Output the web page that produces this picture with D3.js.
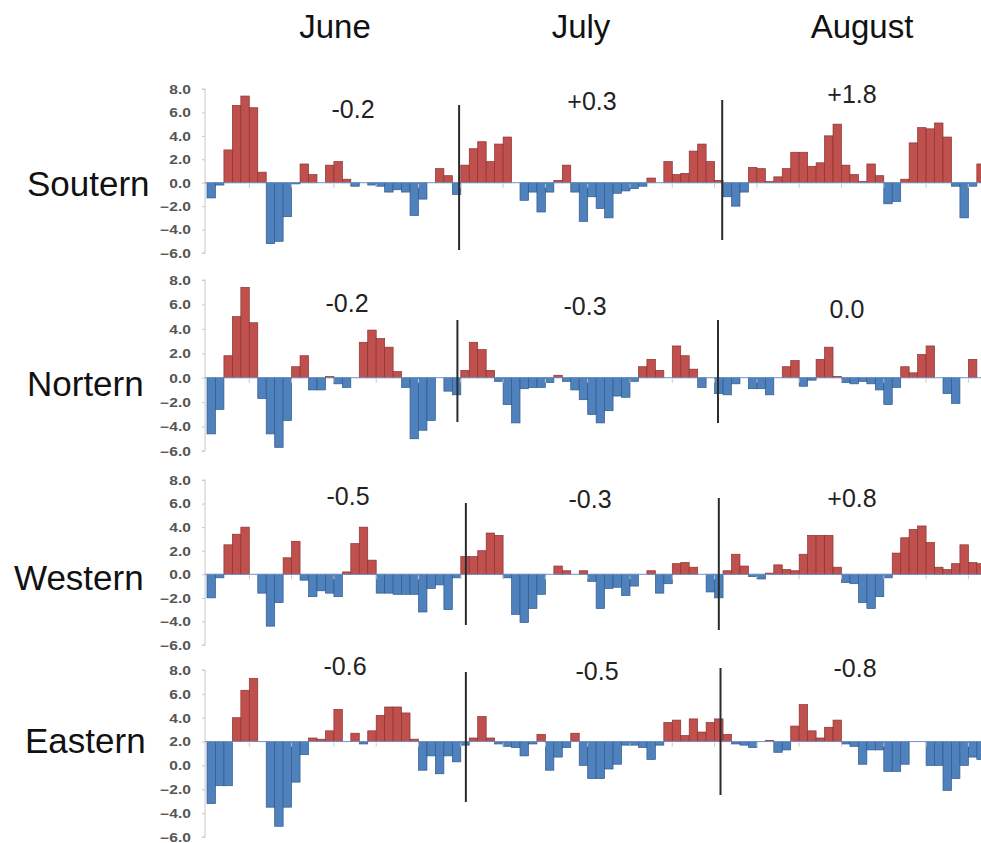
<!DOCTYPE html>
<html><head><meta charset="utf-8">
<script src="https://cdn.jsdelivr.net/npm/d3@7"></script>
<style>body{margin:0;background:#fff}svg{display:block}</style>
</head><body>
<svg id="chart" width="981" height="843"></svg>
<script>
// ---------- DATA ----------
const months = ["June", "July", "August"];
const monthDays = [30, 31, 31];
const regions = ["Soutern", "Nortern", "Western", "Eastern"];
const yTicks = [8, 6, 4, 2, 0, -2, -4, -6];
// baseline value where the horizontal axis crosses (Eastern panel crosses at 2.0)
const axisCross = [0, 0, 0, 2];

const soutern = [
  -1.3, -0.2, 2.8, 6.6, 7.4, 6.4, 0.9, -5.2, -5.0, -2.9, -0.1, 1.6, 0.7, 0.0, 1.5, 1.8, 0.3, -0.3, 0.0, -0.2, -0.3, -0.8, -0.6, -0.8, -2.8, -1.4, 0.0, 1.2, 0.6, -1.0,
  1.5, 2.9, 3.5, 1.8, 3.3, 3.9, 0.0, -1.5, -0.8, -2.5, -0.8, 0.2, 1.5, -0.8, -3.3, -1.2, -2.2, -3.0, -0.9, -0.7, -0.5, -0.3, 0.4, 0.0, 1.8, 0.7, 0.8, 2.7, 3.3, 1.8, 0.2,
  -1.2, -2.0, -0.8, 1.3, 1.2, 0.1, 0.5, 1.2, 2.6, 2.6, 1.4, 1.7, 4.0, 5.0, 1.5, 0.7, 0.1, 1.6, 0.6, -1.8, -1.6, 0.3, 3.4, 4.7, 4.6, 5.1, 3.9, -0.3, -3.0, -0.3, 1.6
];
const nortern = [
  -4.6, -2.6, 1.8, 5.0, 7.4, 4.5, -1.7, -4.6, -5.7, -3.5, 0.9, 1.8, -1.0, -1.0, 0.1, -0.5, -0.8, 0.0, 2.9, 3.9, 3.2, 2.5, 0.5, -0.8, -5.0, -4.3, -3.5, 0.0, -1.1, -1.4,
  0.6, 2.9, 2.3, 0.6, -0.3, -2.2, -3.7, -0.9, -0.8, -0.8, -0.4, 0.2, -0.3, -1.0, -1.8, -3.0, -3.7, -2.7, -1.5, -1.6, -0.3, 0.9, 1.5, 0.6, 0.0, 2.6, 1.8, 0.7, -0.8, 0.0, -1.3,
  -1.4, -0.5, 0.0, -0.9, -0.9, -1.4, 0.0, 0.9, 1.4, -0.7, -0.2, 1.5, 2.5, 0.1, -0.4, -0.5, -0.3, -0.5, -1.0, -2.2, -0.8, 0.9, 0.4, 1.9, 2.6, 0.0, -1.3, -2.1, 0.0, 1.5, 0.0
];
const western = [
  -2.0, -0.3, 2.5, 3.4, 4.0, 0.0, -1.6, -4.4, -2.4, 1.4, 2.8, -0.5, -1.9, -1.4, -1.6, -1.9, 0.2, 2.6, 4.0, 1.2, -1.6, -1.6, -1.7, -1.7, -1.7, -3.2, -1.2, -0.9, -3.0, -0.3,
  1.5, 1.5, 2.0, 3.5, 3.3, -0.3, -3.4, -4.1, -2.9, -1.7, 0.0, 0.7, 0.3, 0.0, 0.3, -0.6, -2.9, -1.2, -1.1, -1.8, -1.0, 0.0, 0.3, -1.6, -0.8, 0.9, 1.0, 0.6, 0.0, -1.5, -2.0,
  0.3, 1.7, 0.7, -0.2, -0.4, 0.1, 0.8, 0.4, 0.3, 1.7, 3.3, 3.3, 3.3, 0.6, -0.7, -0.8, -2.4, -2.9, -1.9, -0.3, 1.8, 3.1, 3.8, 4.1, 2.7, 0.6, 0.4, 0.9, 2.5, 1.0, 0.9
];
const eastern = [
  -3.2, -1.7, -1.7, 4.0, 6.3, 7.3, 2.0, -3.5, -5.1, -3.5, -1.4, 0.9, 2.3, 2.2, 2.9, 4.7, 2.0, 2.7, 1.8, 2.9, 4.2, 4.9, 4.9, 4.4, 2.2, -0.4, 0.8, -0.7, 0.8, 0.3,
  1.7, 2.3, 4.1, 2.3, 1.8, 1.6, 1.5, 0.8, 1.8, 2.6, -0.4, 0.7, 1.5, 2.7, 0.0, -1.1, -1.1, -0.3, 0.1, 1.7, 1.7, 1.5, 0.5, 1.7, 3.6, 3.8, 2.5, 3.9, 2.8, 3.6, 3.9,
  2.6, 1.8, 1.7, 1.5, 2.0, 2.1, 1.1, 1.3, 3.3, 5.1, 2.9, 2.3, 3.2, 3.8, 1.8, 1.6, 0.1, 1.3, 1.3, -0.5, -0.5, 0.1, 2.0, 2.0, 0.0, 0.0, -2.1, -1.1, 0.0, 0.7, 0.5
];
const seriesList = [soutern, nortern, western, eastern];
const monthlyMeans = [
  ["-0.2", "+0.3", "+1.8"],
  ["-0.2", "-0.3", "0.0"],
  ["-0.5", "-0.3", "+0.8"],
  ["-0.6", "-0.5", "-0.8"]
];

// ---------- LAYOUT ----------
const W = 981, H = 843;
const plotLeft = 207, plotRight = 985.3, axisX = 205;
const panelLayout = [
  {top: 89,  bottom: 253, labelX: 27, labelY: 196, annX: [353, 592, 852], annY: [118, 110, 103],
   seps: [{day: 29.8, y1: 105, y2: 250}, {day: 60.9, y1: 100, y2: 240}]},
  {top: 280, bottom: 451, labelX: 27, labelY: 396, annX: [347, 585, 847], annY: [312, 315, 318],
   seps: [{day: 29.6, y1: 320, y2: 422}, {day: 60.4, y1: 320, y2: 423}]},
  {top: 480, bottom: 645, labelX: 14, labelY: 590, annX: [348, 590, 852], annY: [505, 508, 507],
   seps: [{day: 30.6, y1: 503, y2: 625}, {day: 60.5, y1: 498, y2: 630}]},
  {top: 670, bottom: 837, labelX: 25, labelY: 753, annX: [345, 597, 855], annY: [675, 680, 677],
   seps: [{day: 30.6, y1: 672, y2: 802}, {day: 60.7, y1: 668, y2: 795}]}
];
const monthTitleX = [335, 581, 862], monthTitleY = 38;
const redFill = "#c0504d", redStroke = "#8a3330";
const blueFill = "#4f81bd", blueStroke = "#2f5a8c";
const FONT = "'Liberation Sans', Arial, sans-serif";

const svg = d3.select("#chart");
svg.append("rect").attr("width", W).attr("height", H).attr("fill", "#fff");

const nDays = d3.sum(monthDays);
const xBand = d3.scaleBand().domain(d3.range(nDays)).range([plotLeft, plotRight]).padding(0);
const xLin = d3.scaleLinear().domain([0, nDays]).range([plotLeft, plotRight]);

// month titles
svg.selectAll("text.month").data(months).join("text")
  .attr("class", "month")
  .attr("x", (d, i) => monthTitleX[i]).attr("y", monthTitleY)
  .attr("text-anchor", "middle")
  .attr("font-family", FONT).attr("font-size", 33).attr("fill", "#111")
  .text(d => d);

regions.forEach((region, p) => {
  const L = panelLayout[p];
  const data = seriesList[p];
  const base = axisCross[p];
  const y = d3.scaleLinear().domain([-6, 8]).range([L.bottom, L.top]);
  const g = svg.append("g");

  // region label
  g.append("text").attr("x", L.labelX).attr("y", L.labelY)
    .attr("font-family", FONT).attr("font-size", 35).attr("fill", "#111")
    .text(region);

  // y axis
  const yAxis = d3.axisLeft(y).tickValues(yTicks).tickSize(3).tickFormat(d3.format(".1f"));
  const ax = g.append("g").attr("transform", `translate(${axisX},0)`).call(yAxis);
  ax.select(".domain").attr("stroke", "#c8c8c8").attr("d", `M-3,${y(8)}H0V${y(-6)}H-3`);
  ax.selectAll(".tick line").attr("stroke", "#c8c8c8");
  ax.selectAll(".tick text")
    .attr("x", null).attr("dy", null)
    .attr("dominant-baseline", "central")
    .attr("text-anchor", "end")
    .attr("transform", "translate(-14,0) scale(1.3,1)")
    .attr("font-family", FONT).attr("font-size", 12).attr("font-weight", "bold").attr("fill", "#555");

  // bars
  g.append("g").selectAll("rect").data(data).join("rect")
    .attr("x", (d, i) => xBand(i))
    .attr("width", xBand.bandwidth())
    .attr("y", d => Math.min(y(d), y(base)))
    .attr("height", d => Math.abs(y(d) - y(base)))
    .attr("fill", d => d > base ? redFill : blueFill)
    .attr("stroke", d => d > base ? redStroke : blueStroke)
    .attr("stroke-width", 0.7);

  // horizontal (category) axis at the crossing value
  g.append("line").attr("x1", axisX).attr("x2", plotRight)
    .attr("y1", y(base)).attr("y2", y(base))
    .attr("stroke", "#6f93c6").attr("stroke-width", 1);
  // category ticks every 5 days
  g.append("g").selectAll("line").data(d3.range(5, nDays, 5)).join("line")
    .attr("x1", d => xLin(d)).attr("x2", d => xLin(d))
    .attr("y1", y(base) + 1).attr("y2", y(base) + 5)
    .attr("stroke", "#c8c8c8");

  // month separators
  g.append("g").selectAll("line").data(L.seps).join("line")
    .attr("x1", d => xLin(d.day)).attr("x2", d => xLin(d.day))
    .attr("y1", d => d.y1).attr("y2", d => d.y2)
    .attr("stroke", "#2b2b2b").attr("stroke-width", 2);

  // monthly mean annotations
  g.append("g").selectAll("text").data(monthlyMeans[p]).join("text")
    .attr("x", (d, i) => L.annX[i]).attr("y", (d, i) => L.annY[i])
    .attr("text-anchor", "middle")
    .attr("font-family", FONT).attr("font-size", 25).attr("fill", "#222")
    .text(d => d);
});
</script>
</body></html>
